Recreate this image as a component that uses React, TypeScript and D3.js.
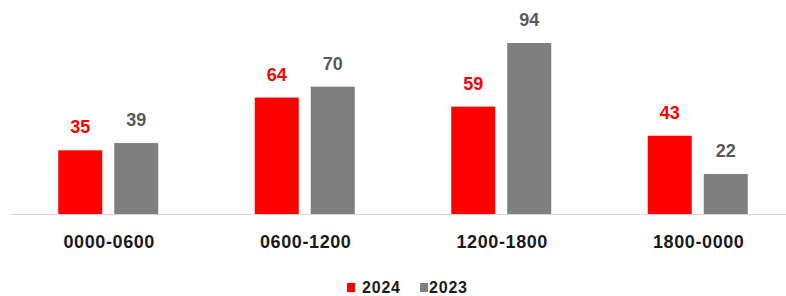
import { useEffect, useRef } from "react";
import * as d3 from "d3";

const categories = ["0000-0600", "0600-1200", "1200-1800", "1800-0000"];
const series = ["2024", "2023"];
const values2024 = [35, 64, 59, 43];
const values2023 = [39, 70, 94, 22];

const colors: Record<string, string> = { "2024": "#FF0000", "2023": "#7F7F7F" };
const labelColors: Record<string, string> = { "2024": "#FF0000", "2023": "#595959" };

export default function App() {
  const svgRef = useRef<SVGSVGElement>(null);

  useEffect(() => {
    const svg = d3.select(svgRef.current);
    svg.selectAll("*").remove();

    const width = 786;
    const height = 296;
    const baseline = 214;
    const font = "'Liberation Sans', Arial, sans-serif";

    const x0 = d3.scaleBand().domain(categories).range([11, 797]).paddingInner(0).paddingOuter(0);
    // two bars 44px wide with a 12px gap
    const x1 = d3.scaleBand().domain(series).range([-50, 50]).paddingInner(12 / 56);
    const y = d3.scaleLinear().domain([0, 94]).range([baseline, 43]);

    const rows = categories.map((c, i) => ({
      cat: c,
      vals: [
        { key: "2024", v: values2024[i] },
        { key: "2023", v: values2023[i] },
      ],
    }));

    const g = svg
      .selectAll("g.grp")
      .data(rows)
      .enter()
      .append("g")
      .attr("transform", (d) => `translate(${x0(d.cat)! + x0.bandwidth() / 2 - 1},0)`);

    g.selectAll("rect")
      .data((d) => d.vals)
      .enter()
      .append("rect")
      .attr("x", (d) => x1(d.key)!)
      .attr("width", x1.bandwidth())
      .attr("y", (d) => y(d.v))
      .attr("height", (d) => baseline - y(d.v))
      .attr("fill", (d) => colors[d.key]);

    g.selectAll("text.val")
      .data((d) => d.vals)
      .enter()
      .append("text")
      .attr("class", "val")
      .attr("x", (d) => x1(d.key)! + x1.bandwidth() / 2)
      .attr("y", (d) => y(d.v) - 17)
      .attr("text-anchor", "middle")
      .attr("fill", (d) => labelColors[d.key])
      .style("font-family", font)
      .style("font-weight", "bold")
      .style("font-size", "18px")
      .text((d) => d.v);

    svg
      .append("line")
      .attr("x1", 10)
      .attr("x2", width)
      .attr("y1", baseline + 0.5)
      .attr("y2", baseline + 0.5)
      .attr("stroke", "#D9D9D9")
      .attr("stroke-width", 1);

    svg
      .selectAll("text.cat")
      .data(categories)
      .enter()
      .append("text")
      .attr("class", "cat")
      .attr("x", (d) => x0(d)! + x0.bandwidth() / 2)
      .attr("y", 248)
      .attr("text-anchor", "middle")
      .attr("fill", "#1a1a1a")
      .style("font-family", font)
      .style("font-weight", "bold")
      .style("font-size", "18px")
      .style("letter-spacing", "0.6px")
      .text((d) => d);

    const legendX = [347, 420];
    const legendTextX = [362, 429];
    series.forEach((s, i) => {
      svg
        .append("rect")
        .attr("x", legendX[i])
        .attr("y", 283)
        .attr("width", 8)
        .attr("height", 9)
        .attr("fill", colors[s]);
      svg
        .append("text")
        .attr("x", legendTextX[i])
        .attr("y", 293)
        .attr("fill", "#1a1a1a")
        .style("font-family", font)
        .style("font-weight", "bold")
        .style("font-size", "16px")
        .style("letter-spacing", "0.8px")
        .text(s);
    });

    svg.attr("width", width).attr("height", height);
  }, []);

  return (
    <svg
      ref={svgRef}
      width={786}
      height={296}
      style={{ position: "absolute", left: 0, top: 0, background: "#fff" }}
    ></svg>
  );
}
